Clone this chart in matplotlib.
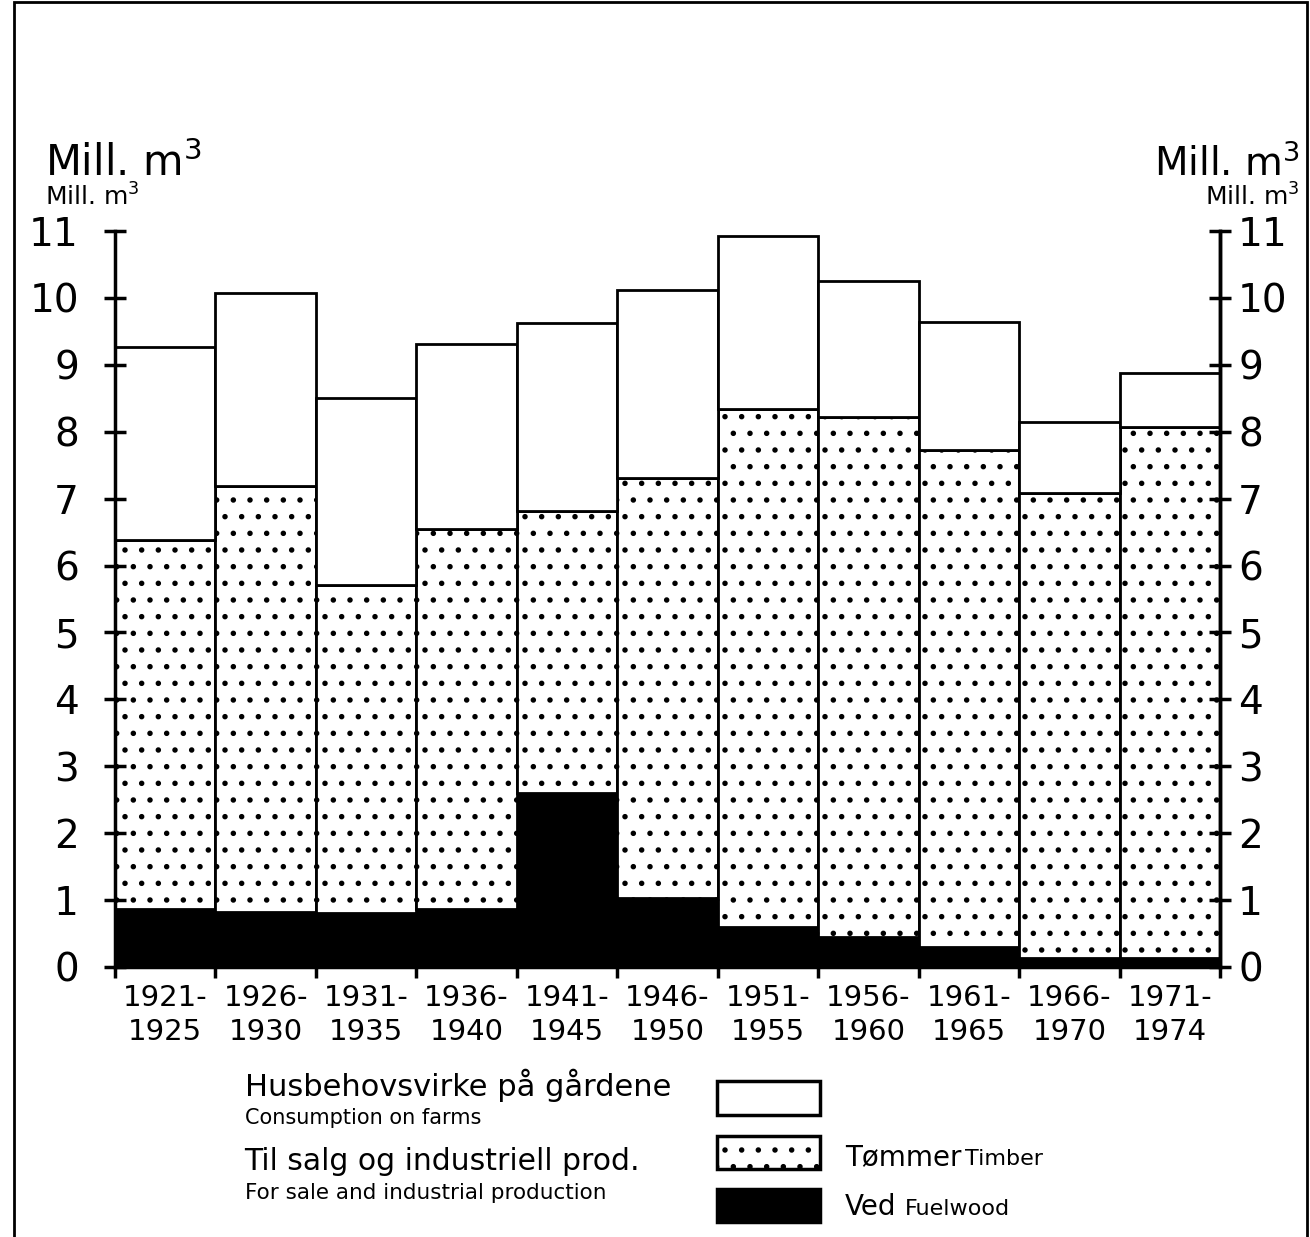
import matplotlib.pyplot as plt
from matplotlib.patches import Rectangle

periods = ['1921-\n1925', '1926-\n1930', '1931-\n1935', '1936-\n1940', '1941-\n1945',
           '1946-\n1950', '1951-\n1955', '1956-\n1960', '1961-\n1965', '1966-\n1970',
           '1971-\n1974']
# cumulative tops (mill. m3)
fuelwood = [0.87, 0.82, 0.81, 0.87, 2.60, 1.03, 0.60, 0.45, 0.30, 0.13, 0.13]
timber_top = [6.38, 7.19, 5.71, 6.55, 6.82, 7.31, 8.34, 8.22, 7.73, 7.09, 8.07]
total = [9.27, 10.07, 8.50, 9.31, 9.63, 10.12, 10.93, 10.25, 9.64, 8.15, 8.88]

timber = [t - f for t, f in zip(timber_top, fuelwood)]
farms = [s - t for s, t in zip(total, timber_top)]

plt.rcParams['hatch.color'] = 'black'
plt.rcParams['hatch.linewidth'] = 1.5
plt.rcParams['font.family'] = 'DejaVu Sans'

fig = plt.figure(figsize=(13.1, 12.37), dpi=100)
ax = fig.add_axes([0.0878, 0.2183, 0.8435, 0.595])

x = range(len(periods))
ax.bar(x, fuelwood, width=1.0, color='black', edgecolor='black', linewidth=2)
ax.bar(x, timber, width=1.0, bottom=fuelwood, color='white', edgecolor='black',
       linewidth=2, hatch='.')
ax.bar(x, farms, width=1.0, bottom=timber_top, color='white', edgecolor='black', linewidth=2)

ax.set_xlim(-0.5, len(periods) - 0.5)
ax.set_ylim(0, 11)
ax.spines['top'].set_visible(False)
for s in ['left', 'right', 'bottom']:
    ax.spines[s].set_linewidth(2.5)

ax.set_yticks(range(0, 12))
ax.tick_params(axis='y', direction='inout', length=16, width=2.5,
               labelsize=28, left=True, right=False, pad=18)

ax2 = ax.twinx()
ax2.set_ylim(0, 11)
ax2.set_yticks(range(0, 12))
ax2.spines['top'].set_visible(False)
ax2.spines['right'].set_linewidth(2.5)
ax2.tick_params(axis='y', direction='inout', length=16, width=2.5, labelsize=28, pad=5)

ax.set_xticks([i - 0.5 for i in range(len(periods) + 1)], minor=False)
ax.set_xticklabels([''] * (len(periods) + 1))
ax.tick_params(axis='x', direction='out', length=8, width=2.5)
ax.set_xticks(list(x), minor=True)
ax.set_xticklabels(periods, minor=True, fontsize=21, linespacing=1.3)
ax.tick_params(axis='x', which='minor', length=0, pad=12)

# unit labels
fig.text(0.034, 0.858, 'Mill. m$^3$', fontsize=30, ha='left', va='baseline')
fig.text(0.034, 0.834, 'Mill. m$^3$', fontsize=18, ha='left', va='baseline')
fig.text(0.992, 0.858, 'Mill. m$^3$', fontsize=28, ha='right', va='baseline')
fig.text(0.992, 0.834, 'Mill. m$^3$', fontsize=18, ha='right', va='baseline')

# legend
fig.text(0.187, 0.114, 'Husbehovsvirke på gårdene', fontsize=22, va='baseline')
fig.text(0.187, 0.091, 'Consumption on farms', fontsize=15, va='baseline')
fig.text(0.186, 0.054, 'Til salg og industriell prod.', fontsize=21.5, va='baseline')
fig.text(0.187, 0.031, 'For sale and industrial production', fontsize=15.5, va='baseline')

fig.add_artist(Rectangle((0.547, 0.099), 0.079, 0.027, transform=fig.transFigure,
                         facecolor='white', edgecolor='black', linewidth=2.5))
fig.add_artist(Rectangle((0.547, 0.055), 0.079, 0.027, transform=fig.transFigure,
                         facecolor='white', edgecolor='black', linewidth=2.5, hatch='.'))
fig.add_artist(Rectangle((0.547, 0.012), 0.079, 0.027, transform=fig.transFigure,
                         facecolor='black', edgecolor='black', linewidth=2.5))
fig.text(0.645, 0.058, 'Tømmer', fontsize=20, va='baseline')
fig.text(0.737, 0.058, 'Timber', fontsize=16, va='baseline')
fig.text(0.645, 0.018, 'Ved', fontsize=20, va='baseline')
fig.text(0.691, 0.018, 'Fuelwood', fontsize=16, va='baseline')

# frame around the figure
fig.add_artist(Rectangle((0.011, -0.01), 0.987, 1.008, transform=fig.transFigure,
                         facecolor='none', edgecolor='black', linewidth=2))

fig.savefig('out.png', dpi=100)
